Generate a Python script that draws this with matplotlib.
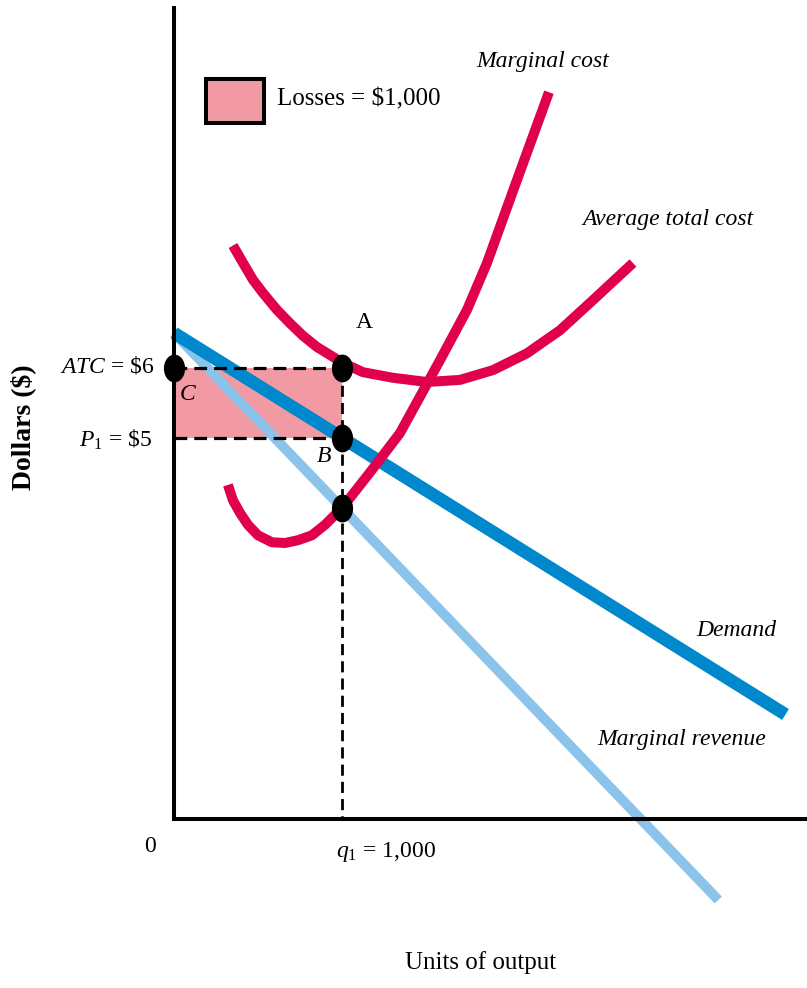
import matplotlib.pyplot as plt
from matplotlib.patches import Rectangle
from matplotlib.path import Path
from matplotlib.transforms import Affine2D

plt.rcParams["font.family"] = ["Liberation Serif", "DejaVu Serif"]
plt.rcParams["mathtext.fontset"] = "custom"
plt.rcParams["mathtext.rm"] = "Liberation Serif"
plt.rcParams["mathtext.it"] = "Liberation Serif:italic"

# quantity of output (units) and price in dollars
q1 = 1000
price_p1 = 5.0
atc_q1 = 6.0
mc_q1 = 4.0

demand_q = [0, 3640]
demand_p = [6.5, 1.05]

mr_q = [0, 3240]
mr_p = [6.5, -1.6]

mc_q = [321, 351, 393, 440, 500, 583, 661, 738, 821, 899, 970, 1000, 1167,
        1345, 1464, 1583, 1744, 1863, 2030, 2232]
mc_p = [4.33, 4.11, 3.93, 3.76, 3.61, 3.51, 3.5, 3.54, 3.61, 3.76, 3.93,
        4.0, 4.51, 5.07, 5.59, 6.11, 6.83, 7.5, 8.61, 9.94]

atc_q = [351, 411, 470, 530, 613, 690, 768, 851, 946, 1000, 1125, 1304,
         1506, 1702, 1899, 2101, 2298, 2494, 2732]
atc_p = [7.75, 7.5, 7.26, 7.07, 6.83, 6.64, 6.46, 6.3, 6.16, 6.08, 5.94,
         5.86, 5.8, 5.83, 5.97, 6.21, 6.54, 6.97, 7.5]

RED = "#e0004e"
BLUE = "#0088cc"
LIGHT_BLUE = "#8cc3ea"
PINK = "#f29aa4"

W, H = 807, 988
fig = plt.figure(figsize=(W / 100, H / 100), dpi=100)
ax = fig.add_axes([174 / W, 1 - 819 / H, (807 - 174) / W, (819 - 8) / H])
ax.set_xlim(0, 3768)
ax.set_ylim(-0.443, 11.143)

for side in ("top", "right"):
    ax.spines[side].set_visible(False)
for side in ("left", "bottom"):
    ax.spines[side].set_linewidth(2.9)
    ax.spines[side].set_zorder(6)
ax.set_xticks([])
ax.set_yticks([])

#
# Loss area
#
ax.fill_between([0, q1], price_p1, atc_q1, color=PINK, lw=0, zorder=1)

#
# Curves
#
ax.plot(mr_q, mr_p, color=LIGHT_BLUE, lw=7.2, solid_capstyle="butt",
        clip_on=False, zorder=2)
ax.plot(demand_q, demand_p, color=BLUE, lw=9.2, solid_capstyle="butt",
        clip_on=False, zorder=3)

dash = (0, (4, 2.2))
ax.plot([0, q1], [atc_q1, atc_q1], color="black", lw=2.3, ls=dash, zorder=4)
ax.plot([0, q1], [price_p1, price_p1], color="black", lw=2.3, ls=dash, zorder=4)
ax.plot([q1, q1], [atc_q1, -0.443], color="black", lw=2.0, ls=dash, zorder=4)

for qs, ps in ((atc_q, atc_p), (mc_q, mc_p)):
    ax.plot(qs, ps, color=RED, lw=7.2, solid_capstyle="butt",
            solid_joinstyle="round", zorder=5)

# slightly tall oval points
oval = Path.unit_circle().transformed(Affine2D().scale(0.75, 1.0))
ax.plot([0, q1, q1, q1], [atc_q1, atc_q1, price_p1, mc_q1], ls="none",
        marker=oval, color="black", ms=19, clip_on=False, zorder=7)


def put(px, py, s, **kw):
    fig.text(px / W, 1 - py / H, s, **kw)


#
# Labels
#
put(476, 62, "Marginal cost", style="italic", fontsize=17, va="center")
put(582, 220, "Average total cost", style="italic", fontsize=17, va="center")
put(696, 630, "Demand", style="italic", fontsize=17, va="center")
put(597, 740, "Marginal revenue", style="italic", fontsize=17, va="center")

put(364, 323, "A", fontsize=17, ha="center", va="center")
put(188, 394, "C", style="italic", fontsize=17, ha="center", va="center")
put(324, 456, "B", style="italic", fontsize=17, ha="center", va="center")

put(155, 366, r"$ATC$ = \$6", fontsize=17, ha="right", va="center")
put(152, 440, r"$P_{1}$ = \$5", fontsize=17, ha="right", va="center")
put(23, 427, "Dollars ($)", fontsize=20, fontweight="bold", rotation=90,
    ha="center", va="center")

put(150, 847, "0", fontsize=17, ha="center", va="center")
put(386, 852, r"$q_{1}$ = 1,000", fontsize=17, ha="center", va="center")
put(481, 963, "Units of output", fontsize=18, ha="center", va="center")

#
# Legend
#
fig.add_artist(Rectangle((206 / W, 1 - 123 / H), 58 / W, 44 / H,
                         facecolor=PINK, edgecolor="black", lw=2.9,
                         transform=fig.transFigure))
put(277, 99, "Losses = $1,000", fontsize=18, va="center")

fig.savefig("out.png", dpi=100)
